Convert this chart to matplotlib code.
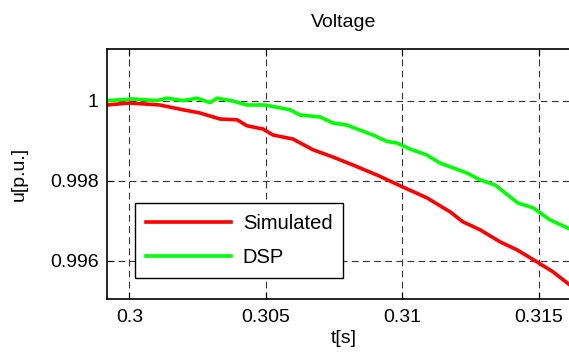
import matplotlib
matplotlib.use('Agg')
import matplotlib.pyplot as plt

# readings
t_sim = [0.29918, 0.30000, 0.30112, 0.30197, 0.30259, 0.30332, 0.30395, 0.30431,
         0.30490, 0.30526, 0.30599, 0.30673, 0.30746, 0.30819, 0.30907, 0.31002,
         0.31090, 0.31175, 0.31222, 0.31285, 0.31358, 0.31420, 0.31493, 0.31552, 0.31614]
u_sim = [0.99989, 0.99994, 0.99989, 0.99977, 0.99969, 0.99954, 0.99952, 0.99937,
         0.99929, 0.99914, 0.99904, 0.99877, 0.99859, 0.99839, 0.99814, 0.99784,
         0.99757, 0.99722, 0.99697, 0.99677, 0.99647, 0.99627, 0.99597, 0.99572, 0.99539]

t_dsp = [0.29918, 0.30014, 0.30101, 0.30138, 0.30197, 0.30248, 0.30296, 0.30321,
         0.30380, 0.30431, 0.30497, 0.30589, 0.30625, 0.30699, 0.30746, 0.30797,
         0.30834, 0.30893, 0.30944, 0.30981, 0.31028, 0.31090, 0.31138, 0.31237,
         0.31285, 0.31340, 0.31424, 0.31479, 0.31541, 0.31614]
u_dsp = [1.00000, 1.00004, 1.00000, 1.00006, 1.00000, 1.00006, 0.99995, 1.00006,
         0.99999, 0.99989, 0.99989, 0.99977, 0.99964, 0.99959, 0.99944, 0.99939,
         0.99929, 0.99914, 0.99898, 0.99894, 0.99879, 0.99864, 0.99844, 0.99819,
         0.99802, 0.99789, 0.99744, 0.99732, 0.99702, 0.99679]

xticks = [0.3, 0.305, 0.31, 0.315]
xticklabels = ['0.3', '0.305', '0.31', '0.315']
yticks = [0.996, 0.998, 1.0]
yticklabels = ['0.996', '0.998', '1']

plt.rcParams['font.family'] = ['Liberation Sans', 'DejaVu Sans']

fig = plt.figure(figsize=(5.69, 3.6), dpi=100)
# axes run past the right edge of the figure, as in the reference
ax = fig.add_axes([107/569, 1 - 299/360, 473/569, 250/360])

ax.plot(t_sim, u_sim, color='#ff0000', lw=2.6, label='Simulated')
ax.plot(t_dsp, u_dsp, color='#00ff00', lw=2.6, label='DSP')

ax.set_xlim(0.29918, 0.31651)
ax.set_ylim(0.99504, 1.00129)
ax.set_xticks(xticks)
ax.set_xticklabels(xticklabels)
ax.set_yticks(yticks)
ax.set_yticklabels(yticklabels)
ax.tick_params(direction='in', top=True, right=True, length=5, labelsize=14)
ax.tick_params(axis='x', pad=7)
ax.tick_params(axis='y', pad=6)
ax.grid(True, color='#333333', ls=(0, (6, 4)), lw=0.8)
for s in ax.spines.values():
    s.set_linewidth(1.2)

ax.set_title('Voltage', fontsize=14, pad=16)
ax.set_xlabel('t[s]', fontsize=14, labelpad=3)
ax.set_ylabel('u[p.u.]', fontsize=14, labelpad=16)

leg = ax.legend(loc='lower left', bbox_to_anchor=(28/473, 21/250), borderaxespad=0,
                fontsize=14.5, fancybox=False, framealpha=1, edgecolor='black',
                handlelength=4.2, handletextpad=0.6, borderpad=0.55, labelspacing=0.75)
leg.get_frame().set_linewidth(1.0)

fig.savefig('out.png', dpi=100)
